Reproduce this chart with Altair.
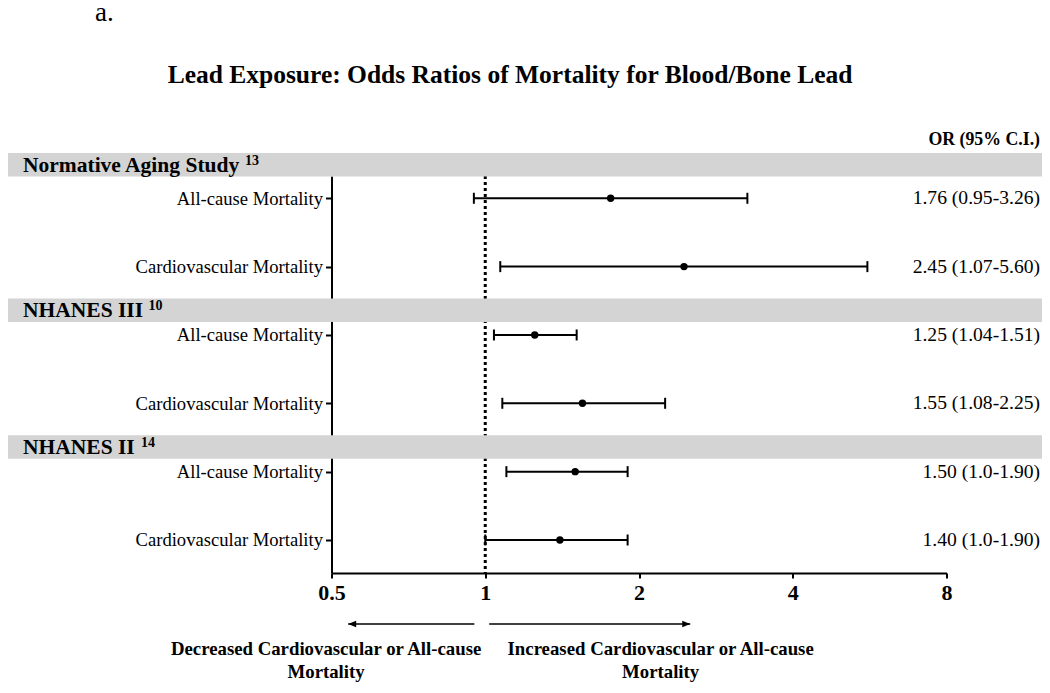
import altair as alt
import pandas as pd

# ---------------- data ----------------
groups = ["Normative Aging Study", "NHANES III", "NHANES II"]
group_refs = ["13", "10", "14"]
outcomes = ["All-cause Mortality", "Cardiovascular Mortality",
            "All-cause Mortality", "Cardiovascular Mortality",
            "All-cause Mortality", "Cardiovascular Mortality"]
row_group = [0, 0, 1, 1, 2, 2]
or_vals = [1.76, 2.45, 1.25, 1.55, 1.50, 1.40]
lo_vals = [0.95, 1.07, 1.04, 1.08, 1.10, 1.00]
hi_vals = [3.26, 5.60, 1.51, 2.25, 1.90, 1.90]
ci_labels = ["1.76 (0.95-3.26)", "2.45 (1.07-5.60)", "1.25 (1.04-1.51)",
             "1.55 (1.08-2.25)", "1.50 (1.0-1.90)", "1.40 (1.0-1.90)"]
x_ticks = [0.5, 1, 2, 4, 8]

title_text = "Lead Exposure: Odds Ratios of Mortality for Blood/Bone Lead"
panel_tag = "a."
col_header = "OR (95% C.I.)"
left_note = ["Decreased Cardiovascular or All-cause", "Mortality"]
right_note = ["Increased Cardiovascular or All-cause", "Mortality"]

# layout helpers (row units / pixels)
header_offset = [-0.49, -0.36, -0.36]
band_half = 0.172
sup_px = [-86.5, -183.0, -190.5]

FONT = "Liberation Serif"

rows = pd.DataFrame({
    "row": list(range(len(outcomes))),
    "outcome": outcomes,
    "or": or_vals,
    "lo": lo_vals,
    "hi": hi_vals,
    "label": ci_labels,
})

first_rows = [row_group.index(g) for g in range(len(groups))]
bands = pd.DataFrame({
    "group": groups,
    "ref": group_refs,
    "c": [first_rows[i] + header_offset[i] for i in range(len(groups))],
    "sx": sup_px,
})
bands["b0"] = bands["c"] - band_half
bands["b1"] = bands["c"] + band_half

xscale = alt.Scale(type="log", base=2, domain=[0.5, 8], nice=False)
yscale = alt.Scale(domain=[-0.326, 5.483], reverse=True, nice=False, zero=False)

label_expr = "[" + ",".join("'" + s + "'" for s in outcomes) + "][datum.value]"

xaxis = alt.Axis(values=x_ticks, format="~g", title=None, grid=False,
                 labelFont=FONT, labelFontWeight="bold", labelFontSize=22,
                 labelColor="black", labelPadding=4, labelFlush=False,
                 domainColor="black", domainWidth=2, tickColor="black",
                 tickWidth=2, tickSize=5)
yaxis = alt.Axis(values=list(range(len(outcomes))), labelExpr=label_expr,
                 title=None, grid=False, labelFont=FONT, labelFontSize=18.6,
                 labelColor="black", labelPadding=3, labelLimit=0,
                 domainColor="black", domainWidth=2, tickColor="black",
                 tickWidth=2, tickSize=6)

X = lambda f: alt.X(f + ":Q", scale=xscale, axis=xaxis)
Y = lambda f: alt.Y(f + ":Q", scale=yscale, axis=yaxis)

base = alt.Chart(rows)

ref_line = alt.Chart(pd.DataFrame({"v": [1]})).mark_rule(
    color="black", strokeWidth=3, strokeDash=[3, 3]
).encode(x=X("v"))

ci = base.mark_rule(color="black", strokeWidth=2).encode(
    x=X("lo"), x2="hi", y=Y("row"))

cap_shape = "M0,-1L0,1"
cap_lo = base.mark_point(shape=cap_shape, size=121, filled=False, color="black",
                         strokeWidth=2, opacity=1).encode(x=X("lo"), y=Y("row"))
cap_hi = base.mark_point(shape=cap_shape, size=121, filled=False, color="black",
                         strokeWidth=2, opacity=1).encode(x=X("hi"), y=Y("row"))

pts = base.mark_circle(size=55, color="black", opacity=1).encode(
    x=X("or"), y=Y("row"))

or_text = base.mark_text(align="right", baseline="middle", font=FONT,
                         fontSize=19.6, color="black").encode(
    x=alt.value(708.5), y=Y("row"), text="label:N")

band_rect = alt.Chart(bands).mark_rect(color="#d4d4d4").encode(
    x=alt.value(-332), x2=alt.value(720), y=Y("b0"), y2="b1")

band_text = alt.Chart(bands).mark_text(align="left", baseline="middle", font=FONT,
                                       fontSize=21.5, fontWeight="bold",
                                       color="black", dy=1).encode(
    x=alt.value(-308.5), y=Y("c"), text="group:N")

band_sup = alt.Chart(bands).mark_text(align="left", baseline="middle", font=FONT,
                                      fontSize=14, fontWeight="bold",
                                      color="black", dy=-4).encode(
    x=alt.X("sx:Q", scale=None), y=Y("c"), text="ref:N")

hdr = alt.Chart(pd.DataFrame({"t": [col_header]})).mark_text(
    align="right", baseline="middle", font=FONT, fontSize=17.8,
    fontWeight="bold", color="black").encode(
    x=alt.value(708.5), y=alt.value(-36), text="t:N")

ttl = alt.Chart(pd.DataFrame({"t": [title_text]})).mark_text(
    align="center", baseline="middle", font=FONT, fontSize=25.5,
    fontWeight="bold", color="black").encode(
    x=alt.value(178.5), y=alt.value(-101), text="t:N")

tag = alt.Chart(pd.DataFrame({"t": [panel_tag]})).mark_text(
    align="left", baseline="alphabetic", font=FONT, fontSize=27,
    color="black").encode(
    x=alt.value(-236.5), y=alt.value(-155), text="t:N")

# arrows (data units along the x scale)
arrows = pd.DataFrame({"a": [0.539, 1.018], "b": [0.952, 2.52]})
arrow_lines = alt.Chart(arrows).mark_rule(color="black", strokeWidth=1.5).encode(
    x=X("a"), x2="b", y=alt.value(448))
heads = pd.DataFrame({"x": [0.539, 2.52],
                      "s": ["M0,0L1,-0.42L1,0.42Z", "M0,0L-1,-0.42L-1,0.42Z"]})
arrow_heads = alt.Chart(heads).mark_point(filled=True, size=256, color="black",
                                          opacity=1).encode(
    x=X("x"), y=alt.value(448),
    shape=alt.Shape("s:N", scale=None))

notes = pd.DataFrame({
    "x": [0.488, 0.488, 2.205, 2.205],
    "yp": [473, 496, 473, 496],
    "t": left_note + right_note,
})
note_text = alt.Chart(notes).mark_text(align="center", baseline="middle",
                                       font=FONT, fontSize=18.8, fontWeight="bold",
                                       color="black").encode(
    x=X("x"), y=alt.Y("yp:Q", scale=None), text="t:N")

chart = alt.layer(
    ref_line, ci, cap_lo, cap_hi, pts, or_text, band_rect, band_text, band_sup,
    hdr, ttl, tag, arrow_lines, arrow_heads, note_text
).properties(
    width=615, height=397,
    autosize=alt.AutoSizeParams(type="none"),
    padding={"left": 323.5, "top": 168, "right": 95.5, "bottom": 112},
    background="white",
).configure_view(stroke=None)

chart.save("out.html", embed_options={"renderer": "svg", "actions": False})
